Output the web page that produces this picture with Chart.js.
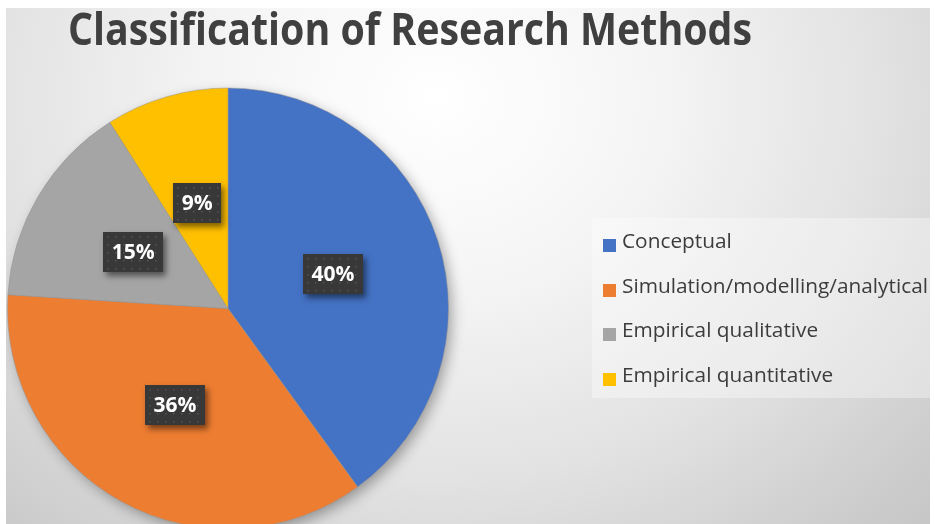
<!DOCTYPE html>
<html>
<head>
<meta charset="utf-8">
<script src="https://cdn.jsdelivr.net/npm/chart.js@4.4.0/dist/chart.umd.min.js"></script>
<style>
  html, body { margin: 0; padding: 0; background: #fff; width: 935px; height: 524px; overflow: hidden; }
  #frame {
    position: absolute; left: 6px; top: 8px; width: 924px; height: 516px; overflow: hidden;
    background: radial-gradient(ellipse 720px 620px at 430px 90px, #ffffff 0%, #f5f5f5 30%, #e2e2e2 62%, #cfcfcf 85%, #c4c4c4 100%);
  }
  #pie { position: absolute; left: 0; top: 0; }
  #title {
    position: absolute; left: 62px; top: -2px; white-space: nowrap;
    font-family: "Open Sans", sans-serif; font-weight: 700; font-size: 44px; line-height: 44px;
    color: #404040; transform-origin: 0 0;
  }
  #legend {
    position: absolute; left: 586px; top: 210px; width: 344px; height: 180px;
    background: rgba(255, 255, 255, 0.35);
  }
  .swatch { position: absolute; left: 11px; width: 13px; height: 13px; }
  .text {
    position: absolute; left: 30px; font-family: "Open Sans", sans-serif; font-size: 20px;
    line-height: 20px; color: #3c3c3c; transform-origin: 0 0; white-space: nowrap;
  }
</style>
</head>
<body>
<div id="frame">
  <canvas id="pie" width="924" height="540"></canvas>
  <div id="title">Classification of Research Methods</div>
  <div id="legend"></div>
</div>
<script>
(function() {
  "use strict";

  var categories = ['Conceptual', 'Simulation/modelling/analytical', 'Empirical qualitative', 'Empirical quantitative'];
  var shares = [40, 36, 15, 9];
  var colors = ['#4472C4', '#ED7D31', '#A5A5A5', '#FFC000'];

  // squeeze the title into the width it takes in the picture
  var title = document.getElementById('title');
  var tw = title.getBoundingClientRect().width;
  title.style.transform = 'scaleX(' + (684 / tw) + ')';

  // legend rows
  var legend = document.getElementById('legend');
  var rowTops = [13, 58, 102, 147];
  var spans = [];
  categories.forEach(function(name, i) {
    var sw = document.createElement('div');
    sw.className = 'swatch';
    sw.style.background = colors[i];
    sw.style.top = (rowTops[i] + 8) + 'px';
    legend.appendChild(sw);
    var t = document.createElement('div');
    t.className = 'text';
    t.textContent = name;
    t.style.top = rowTops[i] + 'px';
    legend.appendChild(t);
    spans.push(t);
  });
  var longest = spans[1].getBoundingClientRect().width;
  var k = 306 / longest;
  spans.forEach(function(s) { s.style.transform = 'scaleX(' + k + ')'; });

  var pieShadow = {
    id: 'pieShadow',
    beforeDatasetsDraw: function(chart) {
      var arc = chart.getDatasetMeta(0).data[0];
      if (!arc) return;
      var ctx = chart.ctx;
      ctx.save();
      ctx.shadowColor = 'rgba(0,0,0,0.35)';
      ctx.shadowBlur = 14;
      ctx.shadowOffsetX = 4;
      ctx.shadowOffsetY = 5;
      ctx.fillStyle = '#999';
      ctx.beginPath();
      ctx.arc(arc.x, arc.y, arc.outerRadius - 1, 0, Math.PI * 2);
      ctx.fill();
      ctx.restore();
    }
  };

  var pctBoxes = {
    id: 'pctBoxes',
    afterDatasetsDraw: function(chart) {
      var ctx = chart.ctx;
      chart.getDatasetMeta(0).data.forEach(function(arc, i) {
        var p = arc.tooltipPosition();
        var txt = shares[i] + '%';
        ctx.save();
        ctx.font = 'bold 21px "Open Sans"';
        var w = Math.round(ctx.measureText(txt).width + 17), h = 40;
        var x = Math.round(p.x - w / 2), y = Math.round(p.y - h / 2);
        ctx.shadowColor = 'rgba(0,0,0,0.5)';
        ctx.shadowBlur = 6;
        ctx.shadowOffsetX = 3;
        ctx.shadowOffsetY = 4;
        ctx.fillStyle = '#383838';
        ctx.fillRect(x, y, w, h);
        ctx.shadowColor = 'transparent';
        ctx.fillStyle = 'rgba(255,255,255,0.14)';
        for (var dx = 4; dx < w - 2; dx += 8) {
          for (var dy = 4; dy < h - 2; dy += 8) {
            ctx.fillRect(x + dx, y + dy, 1.5, 1.5);
          }
        }
        ctx.fillStyle = '#ffffff';
        ctx.textAlign = 'center';
        ctx.textBaseline = 'middle';
        ctx.fillText(txt, p.x, p.y + 1);
        ctx.restore();
      });
    }
  };

  new Chart(document.getElementById('pie').getContext('2d'), {
    type: 'pie',
    data: {
      labels: categories,
      datasets: [{
        data: shares,
        backgroundColor: colors,
        borderColor: 'rgba(150,150,150,0.5)',
        borderWidth: 1
      }]
    },
    options: {
      responsive: false,
      animation: false,
      layout: { padding: { left: 1, top: 79, right: 481, bottom: 18 } },
      plugins: {
        legend: { display: false },
        tooltip: { enabled: false },
        title: { display: false }
      }
    },
    plugins: [pieShadow, pctBoxes]
  });
})();
</script>
</body>
</html>
